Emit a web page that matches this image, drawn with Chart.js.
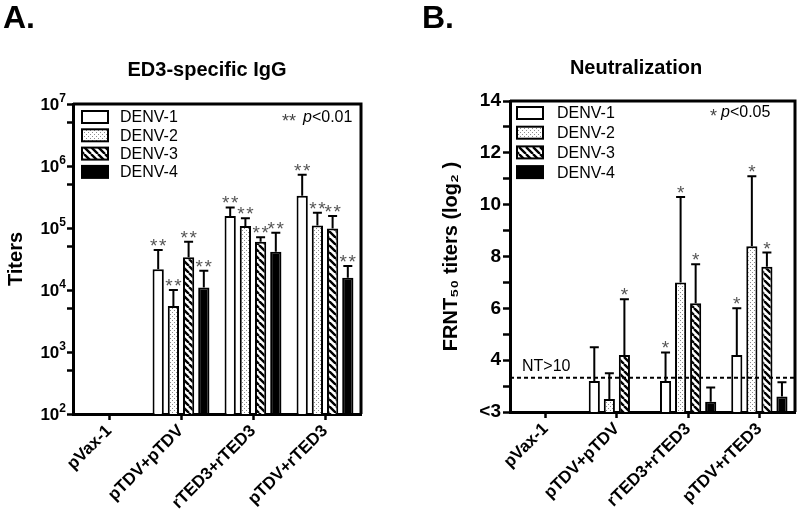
<!DOCTYPE html>
<html><head><meta charset="utf-8">
<script src="https://cdn.jsdelivr.net/npm/chart.js@4"></script>
<style>
html,body{margin:0;padding:0;background:#fff;}
#wrap{position:relative;width:797px;height:520px;overflow:hidden;background:#fff;}
#ca{position:absolute;left:0;top:0;}
#cb{position:absolute;left:400px;top:0;}
</style></head><body>
<div id="wrap"><canvas id="ca" width="400" height="520"></canvas><canvas id="cb" width="397" height="520"></canvas></div>
<script>
// ---------- data ----------
const categories = ['pVax-1', 'pTDV+pTDV', 'rTED3+rTED3', 'pTDV+rTED3'];
const seriesNames = ['DENV-1', 'DENV-2', 'DENV-3', 'DENV-4'];

// Panel A: ED3-specific IgG titers (mean and upper error)
const iggDenv1 = [null, 21600, 156000, 330000];
const iggDenv2 = [null, 5500, 108000, 110000];
const iggDenv3 = [null, 33700, 60000, 98000];
const iggDenv4 = [null, 11000, 41500, 15800];
const iggErr1 = [null, 44000, 215000, 720000];
const iggErr2 = [null, 10000, 143000, 177000];
const iggErr3 = [null, 60000, 71000, 156000];
const iggErr4 = [null, 20500, 84000, 24400];
const iggStars1 = ['', '**', '**', '**'];
const iggStars2 = ['', '**', '**', '**'];
const iggStars3 = ['', '**', '**', '**'];
const iggStars4 = ['', '**', '**', '**'];
const iggMajorTicks = [1e2, 1e3, 1e4, 1e5, 1e6, 1e7];
const iggMinorTicks = [5e2, 5e3, 5e4, 5e5, 5e6];

// Panel B: FRNT50 titers (log2)
const ntDenv1 = [null, 3.2, 3.2, 4.2];
const ntDenv2 = [null, 2.5, 7.0, 8.4];
const ntDenv3 = [null, 4.2, 6.2, 7.6];
const ntDenv4 = [null, null, 2.4, 2.6];
const ntErr1 = [null, 4.5, 4.3, 6.0];
const ntErr2 = [null, 3.5, 10.3, 11.1];
const ntErr3 = [null, 6.35, 7.7, 8.15];
const ntErr4 = [null, null, 2.95, 3.15];
const ntStars1 = ['', '', '*', '*'];
const ntStars2 = ['', '', '*', '*'];
const ntStars3 = ['', '*', '*', '*'];
const ntStars4 = ['', '', '', ''];
const ntThreshold = 3.32; // NT>10 = log2(10)

// ---------- styling ----------
const FONT = "'Liberation Sans', Arial, Helvetica, sans-serif";
Chart.defaults.font.family = FONT;
Chart.defaults.color = '#000';

function makeFills(ctx) {
  const mk = (w, h, draw) => { const c = document.createElement('canvas'); c.width = w; c.height = h; const g = c.getContext('2d'); draw(g); return ctx.createPattern(c, 'repeat'); };
  const dots = mk(4, 4, g => { g.fillStyle = '#fff'; g.fillRect(0, 0, 4, 4); g.fillStyle = '#8c8c8c'; g.fillRect(0, 0, 1, 1); g.fillRect(2, 2, 1, 1); });
  const hatch = mk(7, 7, g => { g.fillStyle = '#fff'; g.fillRect(0, 0, 7, 7); g.strokeStyle = '#000'; g.lineWidth = 2.4; g.beginPath(); for (const k of [-7, 0, 7]) { g.moveTo(k, 0); g.lineTo(k + 7, 7); } g.stroke(); });
  return ['#ffffff', dots, hatch, '#000000'];
}

function makeDatasets(ctx, vals, errs, stars) {
  const fills = makeFills(ctx);
  return vals.map((v, i) => ({
    label: seriesNames[i], data: v, errTop: errs[i], stars: stars[i],
    backgroundColor: fills[i], borderColor: '#000', borderWidth: 2, borderSkipped: 'start',
    categoryPercentage: 0.845, barPercentage: 0.74
  }));
}

function drawStar(ctx, s, x, y) {
  ctx.fillStyle = '#555'; ctx.font = '19px ' + FONT; ctx.textAlign = 'center'; ctx.textBaseline = 'alphabetic';
  if (s.length === 2) { ctx.fillText('*', x - 4.5, y); ctx.fillText('*', x + 4.5, y); }
  else ctx.fillText('*', x, y);
}

function overlay(cfg) {
  return {
    id: 'overlay',
    afterDatasetsDraw(chart) {
      const ctx = chart.ctx, ys = chart.scales.y, area = chart.chartArea;
      ctx.save();
      if (cfg.threshold != null) {
        const ty = ys.getPixelForValue(cfg.threshold);
        ctx.setLineDash([4, 3]); ctx.lineWidth = 2; ctx.strokeStyle = '#000';
        ctx.beginPath(); ctx.moveTo(area.left, ty); ctx.lineTo(area.right, ty); ctx.stroke();
        ctx.setLineDash([]);
        ctx.fillStyle = '#000'; ctx.font = '16px ' + FONT; ctx.textBaseline = 'middle'; ctx.textAlign = 'left';
        ctx.fillText(cfg.thresholdLabel, cfg.thrX, cfg.thrY);
      }
      chart.data.datasets.forEach((ds, i) => {
        const meta = chart.getDatasetMeta(i);
        meta.data.forEach((bar, j) => {
          const v = ds.data[j], e = ds.errTop[j];
          if (v == null || e == null) return;
          const x = bar.x, y0 = bar.y, y1 = ys.getPixelForValue(e);
          ctx.strokeStyle = '#000'; ctx.lineWidth = 2;
          ctx.beginPath(); ctx.moveTo(x, y0); ctx.lineTo(x, y1); ctx.moveTo(x - 4.5, y1); ctx.lineTo(x + 4.5, y1); ctx.stroke();
          const s = ds.stars[j];
          if (s) drawStar(ctx, s, x, y1 + 2);
        });
      });
      ctx.restore();
    },
    afterDraw(chart) {
      const ctx = chart.ctx, a = chart.chartArea, ys = chart.scales.y;
      ctx.save();
      // box frame
      ctx.strokeStyle = '#000'; ctx.lineWidth = 3;
      ctx.beginPath(); ctx.moveTo(a.left, a.top); ctx.lineTo(a.right, a.top); ctx.lineTo(a.right, a.bottom); ctx.stroke();
      // superscripted log tick labels
      if (cfg.logLabels) {
        cfg.logLabels.forEach(v => {
          const y = ys.getPixelForValue(v);
          const e = String(Math.round(Math.log10(v)));
          ctx.fillStyle = '#000'; ctx.textAlign = 'right'; ctx.textBaseline = 'middle';
          ctx.font = 'bold 12px ' + FONT;
          const ew = ctx.measureText(e).width;
          const xr = a.left - 7;
          ctx.fillText(e, xr, y - 5);
          ctx.font = 'bold 17px ' + FONT;
          ctx.fillText('10', xr - ew, y + 1);
        });
      }
      // legend
      const fills = chart.data.datasets.map(d => d.backgroundColor);
      ctx.lineWidth = 2;
      seriesNames.forEach((n, i) => {
        const y = cfg.legY + i * cfg.legStep;
        ctx.fillStyle = fills[i]; ctx.fillRect(cfg.legX, y - 6, 26, 12);
        ctx.strokeStyle = '#000'; ctx.strokeRect(cfg.legX, y - 6, 26, 12);
        ctx.fillStyle = '#000'; ctx.font = '16px ' + FONT; ctx.textAlign = 'left'; ctx.textBaseline = 'middle';
        ctx.fillText(n, cfg.legTextX, y + 1);
      });
      // p-value note
      ctx.font = '18px ' + FONT; ctx.textBaseline = 'alphabetic'; ctx.textAlign = 'left';
      ctx.fillStyle = '#444'; ctx.fillText(cfg.noteStars, cfg.noteX, cfg.noteY + 9);
      ctx.fillStyle = '#000'; ctx.textBaseline = 'middle';
      ctx.font = 'italic 16px ' + FONT; ctx.fillText('p', cfg.noteP, cfg.noteY);
      const pw = ctx.measureText('p').width;
      ctx.font = '16px ' + FONT; ctx.fillText(cfg.noteText, cfg.noteP + pw, cfg.noteY);
      // title and panel letter
      ctx.font = 'bold 20px ' + FONT; ctx.textAlign = 'center'; ctx.textBaseline = 'middle';
      ctx.fillText(cfg.title, cfg.titleX, cfg.titleY);
      ctx.font = 'bold 32px ' + FONT; ctx.textAlign = 'left'; ctx.textBaseline = 'alphabetic';
      ctx.fillText(cfg.letter, cfg.letterX, 28);
      ctx.restore();
    }
  };
}

const xAxisCommon = (h) => ({
  offset: true,
  grid: {display: true, offset: false, drawOnChartArea: false, tickLength: 6, tickWidth: 2.5, tickColor: '#000'},
  border: {color: '#000', width: 3},
  ticks: {color: '#000', font: {size: 17, weight: 'bold'}, maxRotation: 45, minRotation: 45, padding: 1, autoSkip: false},
  afterFit(s) { s.height = h; }
});

// ---------- Panel A ----------
const ctxA = document.getElementById('ca').getContext('2d');
new Chart(ctxA, {
  type: 'bar',
  data: {labels: categories, datasets: makeDatasets(ctxA, [iggDenv1, iggDenv2, iggDenv3, iggDenv4], [iggErr1, iggErr2, iggErr3, iggErr4], [iggStars1, iggStars2, iggStars3, iggStars4])},
  options: {
    responsive: false, animation: false, devicePixelRatio: 1,
    layout: {padding: {top: 104, right: 39, left: 0, bottom: 0}},
    plugins: {legend: {display: false}, tooltip: {enabled: false}, title: {display: false}},
    scales: {
      x: xAxisCommon(106),
      y: {
        type: 'logarithmic', min: 100, max: 1e7,
        afterBuildTicks(s) { s.ticks = iggMajorTicks.concat(iggMinorTicks).sort((a, b) => a - b).map(v => ({value: v})); },
        ticks: {autoSkip: false, color: '#000', font: {size: 17, weight: 'bold'}, padding: 2, callback() { return ''; }},
        grid: {drawOnChartArea: false, tickLength: 6, tickWidth: 2.5, tickColor: '#000'},
        border: {color: '#000', width: 3},
        title: {display: true, text: 'Titers', color: '#000', font: {size: 20, weight: 'bold'}, padding: {top: 4, bottom: 4}},
        afterFit(s) { s.width = 73; }
      }
    }
  },
  plugins: [overlay({logLabels: iggMajorTicks, legX: 82, legY: 117, legStep: 18.3, legTextX: 120, noteStars: '**', noteX: 282, noteP: 303, noteText: '<0.01', noteY: 118,
    title: 'ED3-specific IgG', titleX: 207, titleY: 70, letter: 'A.', letterX: 3})]
});

// ---------- Panel B ----------
const ctxB = document.getElementById('cb').getContext('2d');
new Chart(ctxB, {
  type: 'bar',
  data: {labels: categories, datasets: makeDatasets(ctxB, [ntDenv1, ntDenv2, ntDenv3, ntDenv4], [ntErr1, ntErr2, ntErr3, ntErr4], [ntStars1, ntStars2, ntStars3, ntStars4])},
  options: {
    responsive: false, animation: false, devicePixelRatio: 1,
    layout: {padding: {top: 101, right: 2, left: 35, bottom: 0}},
    plugins: {legend: {display: false}, tooltip: {enabled: false}, title: {display: false}},
    scales: {
      x: xAxisCommon(108),
      y: {
        type: 'linear', min: 2, max: 14,
        ticks: {
          stepSize: 1, autoSkip: false, color: '#000', font: {size: 19, weight: 'bold'}, padding: 2,
          callback(v) { return v === 2 ? '<3' : (v % 2 === 0 ? String(v) : ''); }
        },
        grid: {drawOnChartArea: false, tickLength: 7, tickWidth: 2.5, tickColor: '#000'},
        border: {color: '#000', width: 3},
        title: {display: true, text: 'FRNT\u2085\u2080 titers (log\u2082 )', color: '#000', font: {size: 20, weight: 'bold'}, padding: {top: 4, bottom: 4}},
        afterFit(s) { s.width = 75; }
      }
    }
  },
  plugins: [overlay({legX: 117, legY: 113, legStep: 19.7, legTextX: 157, noteStars: '*', noteX: 310, noteP: 321, noteText: '<0.05', noteY: 113,
    threshold: ntThreshold, thresholdLabel: 'NT>10', thrX: 122, thrY: 367,
    title: 'Neutralization', titleX: 236, titleY: 68, letter: 'B.', letterX: 22})]
});
</script>
</body></html>
